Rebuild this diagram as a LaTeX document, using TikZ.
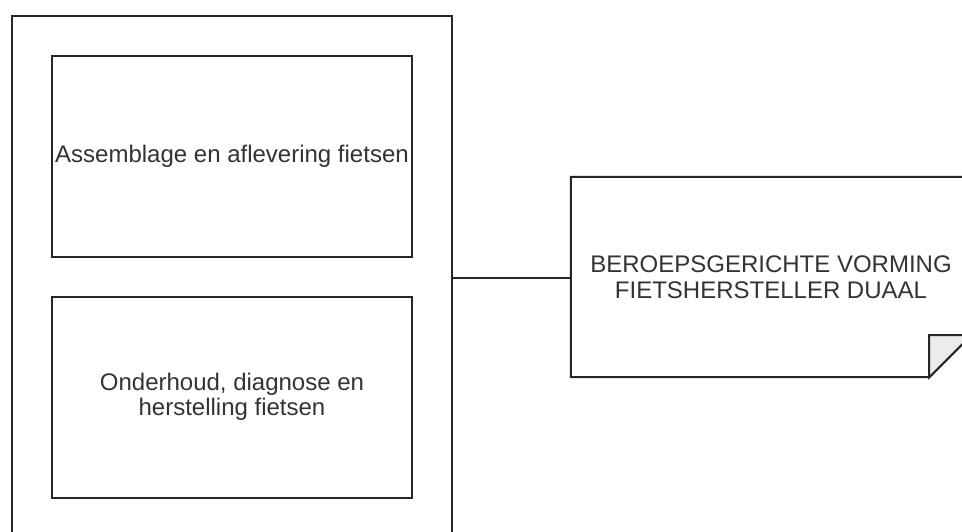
\documentclass[tikz,border=0pt]{standalone}
\usepackage{fontspec}
\setmainfont{Liberation Sans}

\begin{document}
\begin{tikzpicture}[x=1pt, y=-1pt,
    txt/.style={align=center, inner sep=1pt, font=\fontsize{24}{25.5}\selectfont},
    unit/.style={txt, draw, line width=2pt, minimum width=360pt, minimum height=201pt},
    rim/.style={line width=2pt, black!85}]
    % Canvas
    \fill[white] (0,0) rectangle (962,531);
    \clip (0,0) rectangle (962,531);

    % Container with the two units
    \node[draw, rim, minimum width=440pt, minimum height=524pt] (programme) at (232,278) {};
    \node[unit, draw=black!85, text=black!80] (assembly) at (232,156.5) {Assemblage en aflevering fietsen};
    \node[unit, draw=black!85, text=black!80] (repair) at (232,397) {Onderhoud, diagnose en\\herstelling fietsen};

    % Note with folded corner
    \node[txt, text=black!80, minimum width=400pt, minimum height=200pt] (vorming) at (771,277)
        {BEROEPSGERICHTE VORMING\\FIETSHERSTELLER DUAAL};
    \draw[rim] (vorming.north west) -- (vorming.north east)
        -- ([yshift=42pt]vorming.south east)
        -- ([xshift=-42pt]vorming.south east)
        -- (vorming.south west) -- cycle;
    \filldraw[rim, fill=gray!15] ([xshift=-42pt]vorming.south east)
        -- ([xshift=-42pt, yshift=42pt]vorming.south east)
        -- ([yshift=42pt]vorming.south east) -- cycle;

    % Connector
    \draw[rim] (programme.east) -- (programme.east -| vorming.west);
\end{tikzpicture}
\end{document}
